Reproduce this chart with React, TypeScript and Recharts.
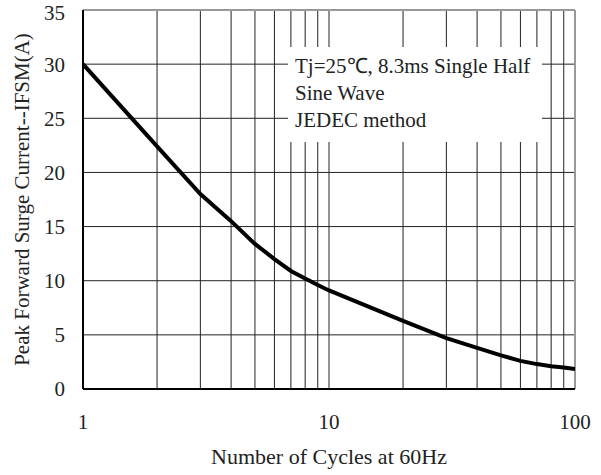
import { CartesianGrid, Label, Line, LineChart, ReferenceLine, XAxis, YAxis } from "recharts";

const cycles = [1, 2, 3, 4, 5, 6, 7, 8, 9, 10, 20, 30, 40, 50, 60, 70, 80, 90, 100];
const ifsm = [30, 22.4, 18, 15.5, 13.4, 12, 10.9, 10.2, 9.6, 9.1, 6.3, 4.7, 3.8, 3.1, 2.6, 2.3, 2.1, 1.98, 1.85];

const xTicks = [1, 10, 100];
const yTicks = [0, 5, 10, 15, 20, 25, 30, 35];
const gridX = [2, 3, 4, 5, 6, 7, 8, 9, 10, 20, 30, 40, 50, 60, 70, 80, 90];
const gridY = [5, 10, 15, 20, 25, 30];

const noteLines = ["Tj=25\u2103, 8.3ms Single Half", "Sine Wave", "JEDEC method"];

const font = "'Liberation Serif', 'Times New Roman', serif";

export default function App() {
  const data = cycles.map((c, i) => ({ c, v: ifsm[i] }));
  const tick = { fontFamily: font, fontSize: 21, fill: "#222" };
  return (
    <div style={{ position: "absolute", left: 0, top: 0, width: 601, height: 475, background: "#fff" }}>
      <LineChart width={601} height={475} data={data} margin={{ top: 10, right: 26, left: 0, bottom: 0 }}>
        <CartesianGrid vertical={false} horizontal={false} />
        {gridX.map((x) => (
          <ReferenceLine key={"gx" + x} x={x} stroke="#222" strokeWidth={1} />
        ))}
        {gridY.map((y) => (
          <ReferenceLine key={"gy" + y} y={y} stroke="#222" strokeWidth={1} />
        ))}
        <ReferenceLine y={35} stroke="#999" strokeWidth={2} />
        <ReferenceLine x={100} stroke="#999" strokeWidth={2} />
        <XAxis
          dataKey="c"
          type="number"
          scale="log"
          domain={[1, 100]}
          ticks={xTicks}
          tickLine={false}
          tickSize={0}
          tickMargin={25}
          axisLine={{ stroke: "#000", strokeWidth: 2 }}
          tick={tick}
          height={86}
          allowDataOverflow
        >
          <Label
            value="Number of Cycles at 60Hz"
            position="insideBottom"
            offset={11}
            style={{ fontFamily: font, fontSize: 22, fill: "#222" }}
          />
        </XAxis>
        <YAxis
          type="number"
          domain={[0, 35]}
          ticks={yTicks}
          tickLine={false}
          tickSize={0}
          tickMargin={18}
          axisLine={{ stroke: "#000", strokeWidth: 2 }}
          tick={tick}
          width={83}
        >
          <Label
            value="Peak Forward Surge Current--IFSM(A)"
            angle={-90}
            position="insideLeft"
            offset={22}
            style={{ fontFamily: font, fontSize: 21, fill: "#222", textAnchor: "middle" }}
          />
        </YAxis>
        <Line
          type="linear"
          dataKey="v"
          stroke="#000"
          strokeWidth={4}
          dot={false}
          isAnimationActive={false}
        />
      </LineChart>
      <div
        style={{
          position: "absolute",
          left: 288,
          top: 47,
          width: 254,
          height: 95,
          background: "#fff",
          fontFamily: font,
          fontSize: 21,
          lineHeight: "27px",
          color: "#222",
          boxSizing: "border-box",
          paddingLeft: 7,
          paddingTop: 6,
          whiteSpace: "nowrap",
        }}
      >
        {noteLines.map((t) => (
          <div key={t}>{t}</div>
        ))}
      </div>
    </div>
  );
}
